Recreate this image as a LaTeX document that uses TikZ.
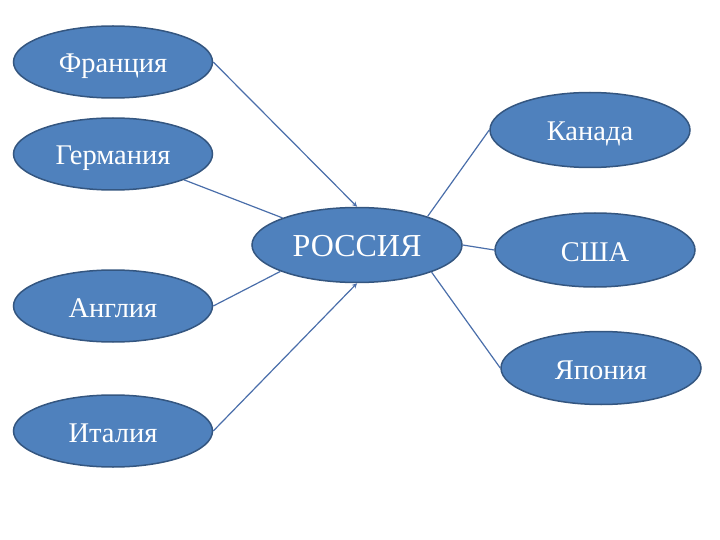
\documentclass[tikz,border=0pt]{standalone}
\usepackage{fontspec}
\setmainfont{Liberation Serif}
\usepackage{xcolor}
\usepackage{tikz}
\usetikzlibrary{shapes.geometric, arrows.meta}

\definecolor{ovalfill}{RGB}{79,129,189}
\definecolor{ovaledge}{RGB}{52,86,128}
\definecolor{linkcol}{RGB}{74,110,170}

\begin{document}
\begin{tikzpicture}[x=1pt, y=-1pt,
  country/.style = {ellipse, fill=ovalfill, draw=ovaledge, line width=1.5pt, text=white,
    minimum width=199pt, minimum height=72pt, inner sep=0pt, text height=26pt, text depth=4pt,
    font=\fontsize{28.5}{30}\selectfont},
  link/.style = {draw=linkcol, line width=1.2pt}]
\useasboundingbox (0,0) rectangle (720,540);
\node[country] (fr) at (113,62) {Франция};
\node[country] (de) at (113,154) {Германия};
\node[country] (en) at (113,306) {Англия};
\node[country] (it) at (113,431) {Италия};
\node[country, minimum width=210pt, minimum height=75pt, font=\fontsize{32}{34}\selectfont] (ru) at (357,245) {РОССИЯ};
\node[country, minimum width=200pt, minimum height=75pt] (ca) at (590,130) {Канада};
\node[country, minimum width=200pt, minimum height=74pt] (us) at (595,250) {США};
\node[country, minimum width=200pt, minimum height=73pt] (jp) at (601,368) {Япония};
\draw[link, -{Stealth[length=5pt, width=5pt]}] (fr.east) -- (ru.north); % Франция to centre
\draw[link] (de.-20) -- (ru.160); % Германия
\draw[link] (en.east) -- (ru.199); % Англия
\draw[link, -{Stealth[length=5pt, width=5pt]}] (it.east) -- (ru.south); % Италия to centre
\foreach \c/\a in {ca/22, us/0, jp/-20}{\draw[link] (ru.\a) -- (\c.west);}
\end{tikzpicture}
\end{document}
